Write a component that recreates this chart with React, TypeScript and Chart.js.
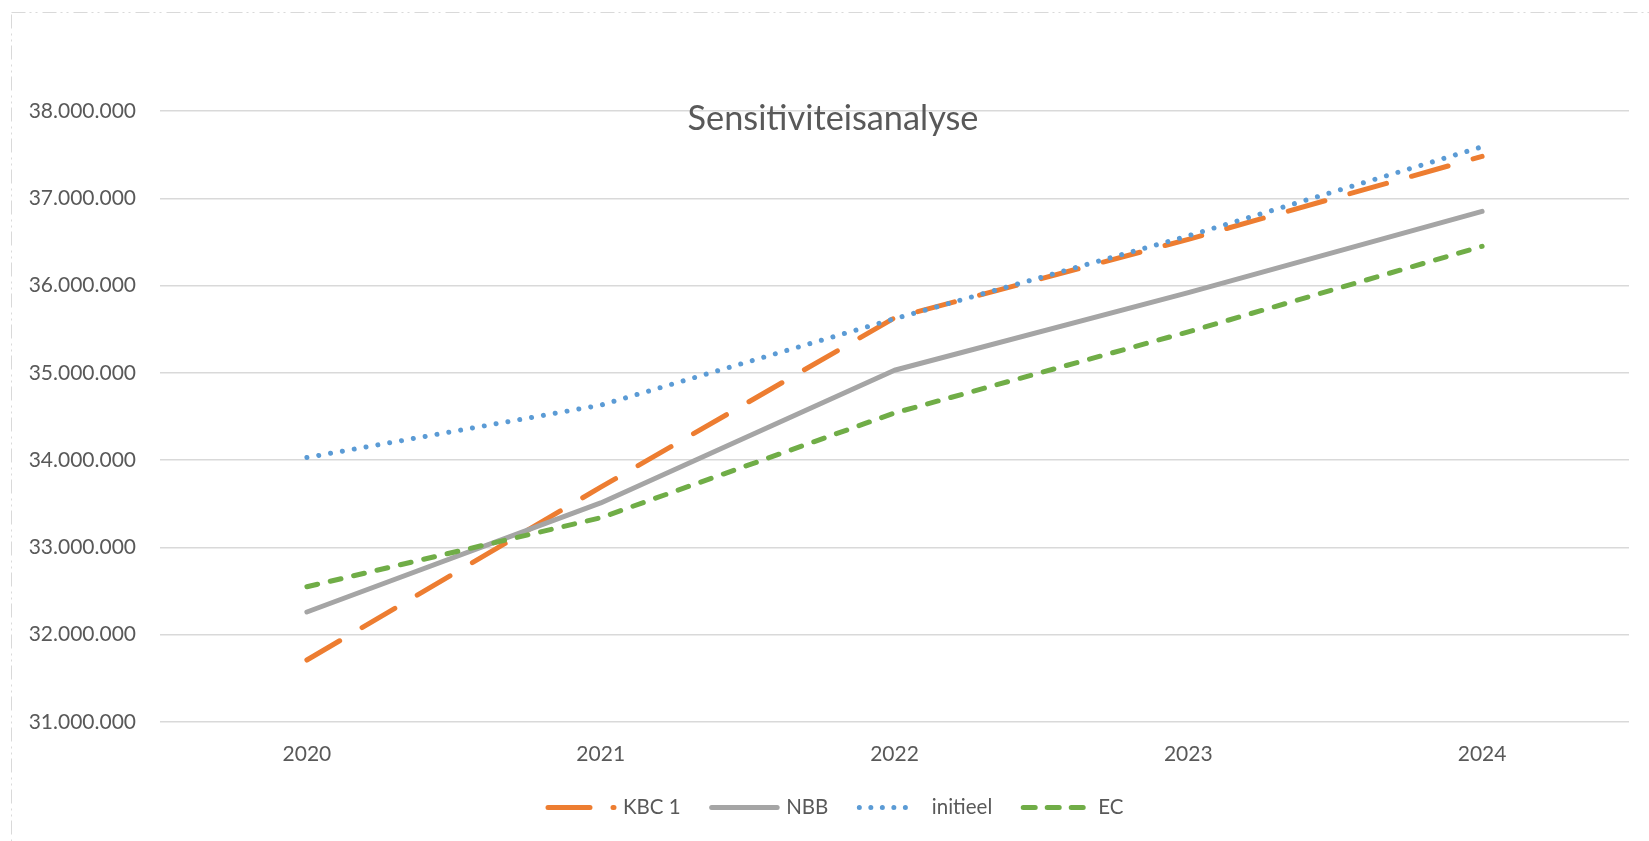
import React, { useEffect, useRef } from "react";
import { Chart, registerables } from "chart.js";

Chart.register(...registerables);

// ---- data ----
const categories = ["2020", "2021", "2022", "2023", "2024"];
const seriesNames = ["KBC 1", "NBB", "initieel", "EC"];
const kbc1 = [31710000, 33690000, 35630000, 36530000, 37480000];
const nbb = [32260000, 33510000, 35030000, 35920000, 36850000];
const initieel = [34030000, 34630000, 35620000, 36570000, 37590000];
const ec = [32550000, 33340000, 34540000, 35470000, 36450000];
const yMin = 31000000;
const yMax = 38000000;
const yStep = 1000000;
const chartTitle = "Sensitiviteisanalyse";

// ---- styles ----
const FONT = "Lato";
const TEXT = "#595959";
const colors = ["#ED7D31", "#A5A5A5", "#5B9BD5", "#70AD47"];
const dashes = [[38, 26], [], [0.01, 12], [11, 13]];
const legendStyles = [
  { dash: [42, 23], len: 66, gap: 9 },
  { dash: [], len: 65.5, gap: 9 },
  { dash: [0.01, 11.5], len: 57.5, gap: 15 },
  { dash: [12, 12], len: 60, gap: 15 },
];
const legendStartX = 548;
const legendY = 807.5;
const legendItemGap = 31;

const fmt = (v: number | string) =>
  String(Math.round(Number(v))).replace(/\B(?=(\d{3})+(?!\d))/g, ".");

const framePlugin = {
  id: "frame",
  beforeDraw(chart: any) {
    const ctx = chart.ctx;
    ctx.save();
    ctx.fillStyle = "#ffffff";
    ctx.fillRect(0, 0, chart.width, chart.height);
    ctx.strokeStyle = "#d9d9d9";
    ctx.lineWidth = 1;
    ctx.setLineDash([14, 4, 2, 4, 2, 5]);
    ctx.strokeRect(11.5, 12.5, chart.width + 30, chart.height + 30);
    ctx.restore();
  },
};

const titlePlugin = {
  id: "overlayTitle",
  afterDraw(chart: any) {
    const ctx = chart.ctx;
    ctx.save();
    ctx.font = `34.3px ${FONT}`;
    ctx.fillStyle = TEXT;
    ctx.textAlign = "center";
    ctx.textBaseline = "alphabetic";
    ctx.fillText(chartTitle, 833, 130);
    ctx.restore();
  },
};

const legendPlugin = {
  id: "lineLegend",
  afterDraw(chart: any) {
    const ctx = chart.ctx;
    ctx.save();
    ctx.font = `20.5px ${FONT}`;
    const y = legendY;
    let x = legendStartX;
    chart.data.datasets.forEach((ds: any, i: number) => {
      const st = legendStyles[i];
      ctx.strokeStyle = ds.borderColor;
      ctx.lineWidth = ds.borderWidth;
      ctx.lineCap = "round";
      ctx.setLineDash(st.dash);
      ctx.beginPath();
      ctx.moveTo(x, y);
      ctx.lineTo(x + st.len, y);
      ctx.stroke();
      x += st.len + st.gap;
      ctx.setLineDash([]);
      ctx.fillStyle = TEXT;
      ctx.textAlign = "left";
      ctx.textBaseline = "middle";
      ctx.fillText(ds.label, x, y);
      x += ctx.measureText(ds.label).width + legendItemGap;
    });
    ctx.restore();
  },
};

export default function App() {
  const ref = useRef<HTMLCanvasElement | null>(null);

  useEffect(() => {
    if (!ref.current) return;
    const values = [kbc1, nbb, initieel, ec];
    const chart = new Chart(ref.current, {
      type: "line",
      data: {
        labels: categories,
        datasets: values.map((v, i) => ({
          label: seriesNames[i],
          data: v,
          borderColor: colors[i],
          backgroundColor: colors[i],
          borderWidth: 5,
          borderDash: dashes[i],
          borderCapStyle: "round",
          borderJoinStyle: "round",
          pointRadius: 0,
          tension: 0,
          fill: false,
          order: values.length - i,
        })),
      },
      options: {
        responsive: false,
        animation: false,
        layout: { padding: { top: 111, right: 20, left: 0, bottom: 0 } },
        plugins: {
          legend: { display: false },
          title: { display: false },
          tooltip: { enabled: false },
        },
        scales: {
          x: {
            offset: true,
            grid: { display: false, drawTicks: false },
            border: { display: false },
            ticks: { color: TEXT, font: { family: FONT, size: 21 }, padding: 20 },
            afterFit: (s: any) => {
              s.height = 119;
            },
          },
          y: {
            min: yMin,
            max: yMax,
            ticks: {
              stepSize: yStep,
              callback: (v: any) => fmt(v),
              color: TEXT,
              font: { family: FONT, size: 21 },
              padding: 24,
            },
            grid: { color: "#d9d9d9", lineWidth: 1.5, drawTicks: false },
            border: { display: false },
            afterFit: (s: any) => {
              s.width = 160;
            },
          },
        },
      },
      plugins: [framePlugin, titlePlugin, legendPlugin],
    } as any);
    return () => chart.destroy();
  }, []);

  return (
    <div style={{ position: "fixed", left: 0, top: 0, width: 1649, height: 841, overflow: "hidden", background: "#fff" }}>
      <canvas ref={ref} width={1649} height={841} style={{ display: "block", width: 1649, height: 841 }} />
    </div>
  );
}
